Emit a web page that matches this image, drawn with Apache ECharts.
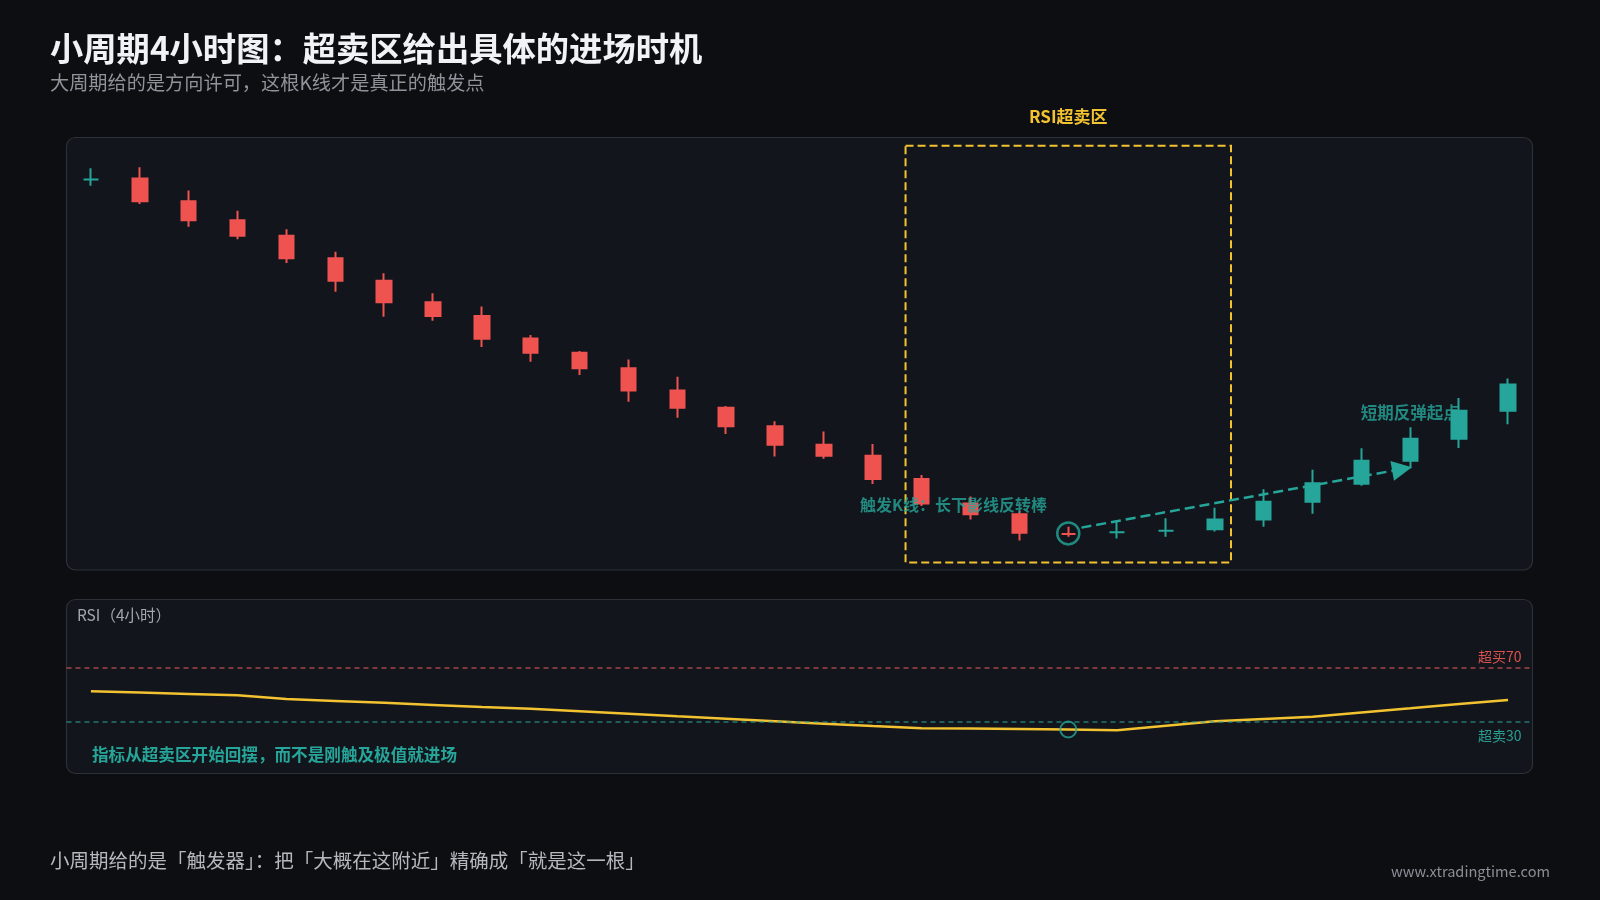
<!DOCTYPE html>
<html><head><meta charset="utf-8">
<script src="https://cdn.jsdelivr.net/npm/echarts@6/dist/echarts.min.js"></script>
<style>html,body{margin:0;padding:0;background:#0d0e12;}#c{width:1600px;height:900px;}</style>
</head><body><div id="c"></div>
<script>
// ---------- data ----------
const categories = ['1','2','3','4','5','6','7','8','9','10','11','12','13','14','15','16','17','18','19','20','21','22','23','24','25','26','27','28','29','30'];
const opens  = [90.4, 90.6, 85.3, 80.9, 77.3, 72.1, 66.9, 61.9, 58.7, 53.5, 50.2, 46.6, 41.4, 37.4, 33.1, 28.8, 26.3, 20.9, 15.2, 12.7, 8.1, 8.5, 8.9, 9.2, 11.5, 15.6, 19.8, 25.1, 30.2, 36.7];
const closes = [90.4, 85.3, 80.9, 77.3, 72.1, 66.9, 61.9, 58.7, 53.4, 50.2, 46.6, 41.4, 37.4, 33.1, 28.8, 26.3, 20.9, 15.2, 12.7, 8.4, 8.1, 8.5, 8.9, 11.5, 15.6, 19.9, 25.1, 30.2, 36.7, 42.8];
const lows   = [88.9, 84.7, 79.4, 76.5, 71.0, 64.3, 58.5, 57.6, 51.5, 48.1, 45.0, 38.8, 35.1, 31.3, 26.1, 25.6, 19.7, 14.6, 11.5, 6.6, 7.5, 7.1, 7.5, 8.7, 9.8, 12.8, 19.3, 23.4, 28.1, 33.6];
const highs  = [93.0, 93.2, 87.8, 83.1, 78.8, 73.6, 68.6, 64.0, 60.9, 54.3, 50.6, 48.6, 44.6, 37.8, 34.3, 31.9, 29.0, 21.8, 16.8, 13.5, 9.8, 11.0, 11.8, 14.2, 18.5, 23.0, 28.0, 32.9, 39.7, 44.2];
const rsiValues = [52.5, 51.5, 50.5, 49.5, 46.8, 45.4, 44.0, 42.5, 41.0, 39.6, 37.9, 36.1, 34.2, 32.4, 30.6, 28.8, 27.0, 25.4, 25.2, 24.9, 24.5, 23.9, 27.2, 30.5, 32.2, 33.9, 37.0, 40.0, 43.1, 46.1];
const rsiLevels = [70, 30];
const rsiLevelLabels = ['超买70', '超卖30'];
const zoneX = [16.67, 23.33];     // oversold zone, in bar index units
const zonePrice = [1.5, 98.2];
const triggerIndex = 20;
const arrowFrom = [20.27, 9.6];
const arrowTo = [26.83, 23.2];
const reboundIndex = 27;
const reboundLabelPrice = 36.2;
const texts = {
  title: '小周期4小时图：超卖区给出具体的进场时机',
  subtitle: '大周期给的是方向许可，这根K线才是真正的触发点',
  zone: 'RSI超卖区',
  trigger: '触发K线：长下影线反转棒',
  rebound: '短期反弹起点',
  rsiTitle: 'RSI（4小时）',
  rsiNote: '指标从超卖区开始回摆，而不是刚触及极值就进场',
  footer: '小周期给的是「触发器」：把「大概在这附近」精确成「就是这一根」',
  site: 'www.xtradingtime.com'
};

// ---------- style ----------
const FONT = '"Noto Sans CJK SC","Noto Sans",sans-serif';
const UP = '#26a69a', DOWN = '#ef5350', YELLOW = '#f2c230', TEAL = '#26a69a';

const candleData = opens.map((o, i) => {
  const item = { value: [o, closes[i], lows[i], highs[i]] };
  if (o === closes[i]) {
    const up = i === 0 || closes[i - 1] <= closes[i];
    item.itemStyle = { borderColor: up ? UP : DOWN, borderColorDoji: up ? UP : DOWN };
  }
  return item;
});

function txt(x, y, text, font, fill, align) {
  return { type: 'text', x: x, y: y, silent: true, z: 10,
    style: { text: text, font: font, fill: fill, align: align || 'left', verticalAlign: 'middle',
             textAlign: align || 'left', textVerticalAlign: 'middle' } };
}

const chart = echarts.init(document.getElementById('c'), null, { renderer: 'canvas' });
const option = {
  backgroundColor: '#0d0e12',
  animation: false,
  textStyle: { fontFamily: FONT },
  graphic: [
    { type: 'rect', z: -10, silent: true, shape: { x: 66.5, y: 137.5, width: 1466, height: 432.5, r: 9 },
      style: { fill: '#12151b', stroke: '#2c3038', lineWidth: 1.2 } },
    { type: 'rect', z: -10, silent: true, shape: { x: 66.5, y: 599.5, width: 1466, height: 174, r: 9 },
      style: { fill: '#12151b', stroke: '#2c3038', lineWidth: 1.2 } },
    txt(50, 48, texts.title, 'bold 33.3px ' + FONT, '#f1f2f4'),
    txt(50, 83, texts.subtitle, '19.2px ' + FONT, '#8f939a'),
    txt(77, 615, texts.rsiTitle, '15.5px ' + FONT, '#a4a8ae'),
    txt(92, 755, texts.rsiNote, 'bold 16.6px ' + FONT, TEAL),
    txt(50, 861, texts.footer, '19.5px ' + FONT, '#b5b8be'),
    txt(1550, 871, texts.site, '14.6px ' + FONT, '#8a8e95', 'right')
  ],
  grid: [
    { left: 66.5, right: 67.5, top: 138, height: 431 },
    { left: 66.5, right: 67.5, top: 626.3, height: 136.7 }
  ],
  xAxis: [
    { type: 'category', gridIndex: 0, data: categories, show: false, boundaryGap: true },
    { type: 'value', gridIndex: 0, min: -0.5, max: 29.5, show: false },
    { type: 'category', gridIndex: 1, data: categories, show: false, boundaryGap: true }
  ],
  yAxis: [
    { type: 'value', gridIndex: 0, min: 0, max: 100, show: false },
    { type: 'value', gridIndex: 1, min: 0, max: 100, show: false }
  ],
  series: [
    { // rebound label (drawn beneath candles)
      type: 'scatter', xAxisIndex: 0, yAxisIndex: 0, z: 1, silent: true,
      symbolSize: 1, itemStyle: { color: 'rgba(0,0,0,0)' },
      data: [[reboundIndex, reboundLabelPrice]],
      label: { show: true, position: 'inside', formatter: texts.rebound, color: TEAL,
               fontSize: 16.5, fontWeight: 'bold', fontFamily: FONT }
    },
    {
      type: 'candlestick', xAxisIndex: 0, yAxisIndex: 0, z: 2, barWidth: 15,
      data: candleData,
      itemStyle: { color: UP, color0: DOWN, borderColor: UP, borderColor0: DOWN, borderWidth: 2 }
    },
    { // overlays on value x-axis
      type: 'line', xAxisIndex: 1, yAxisIndex: 0, data: [], z: 3, clip: false, silent: true,
      markArea: {
        silent: true,
        itemStyle: { color: 'rgba(0,0,0,0)', borderColor: YELLOW, borderWidth: 2, borderType: 'dashed' },
        label: { show: true, position: 'top', distance: 20, formatter: texts.zone, color: YELLOW,
                 fontSize: 17, fontWeight: 'bold', fontFamily: FONT },
        data: [[{ coord: [zoneX[0], zonePrice[1]] }, { coord: [zoneX[1], zonePrice[0]] }]]
      },
      markLine: {
        silent: true, symbol: ['none', 'triangle'], symbolSize: 20,
        lineStyle: { color: TEAL, width: 2.5, type: 'dashed' },
        label: { show: false },
        data: [[{ coord: arrowFrom }, { coord: arrowTo }]]
      }
    },
    { // trigger bar circle + label
      type: 'scatter', xAxisIndex: 0, yAxisIndex: 0, z: 4, silent: true,
      symbol: 'circle', symbolSize: 22,
      itemStyle: { color: 'rgba(0,0,0,0)', borderColor: TEAL, borderWidth: 2.5 },
      data: [[triggerIndex, (highs[triggerIndex] + lows[triggerIndex]) / 2 - 0.4]],
      label: { show: true, position: 'left', distance: 9, offset: [0, -29], formatter: texts.trigger,
               color: TEAL, fontSize: 16, fontWeight: 'bold', fontFamily: FONT }
    },
    { // RSI
      type: 'line', xAxisIndex: 2, yAxisIndex: 1, data: rsiValues, showSymbol: false, z: 3,
      lineStyle: { color: YELLOW, width: 2.5 },
      markLine: {
        silent: true, symbol: 'none',
        data: [
          { yAxis: rsiLevels[0], lineStyle: { color: 'rgba(224,90,92,0.7)', type: [5, 4], width: 1.5 },
            label: { formatter: rsiLevelLabels[0], position: 'insideEndTop', distance: [11, 4],
                     color: '#d9534f', fontSize: 14, fontFamily: FONT } },
          { yAxis: rsiLevels[1], lineStyle: { color: 'rgba(45,160,150,0.7)', type: [5, 4], width: 1.5 },
            label: { formatter: rsiLevelLabels[1], position: 'insideEndBottom', distance: [11, 7],
                     color: '#2a9d92', fontSize: 14, fontFamily: FONT } }
        ]
      }
    },
    {
      type: 'scatter', xAxisIndex: 2, yAxisIndex: 1, z: 4, silent: true,
      symbol: 'circle', symbolSize: 16,
      itemStyle: { color: 'rgba(0,0,0,0)', borderColor: TEAL, borderWidth: 2 },
      data: [[triggerIndex, rsiValues[triggerIndex]]]
    }
  ]
};
chart.setOption(option);
</script>
</body></html>
